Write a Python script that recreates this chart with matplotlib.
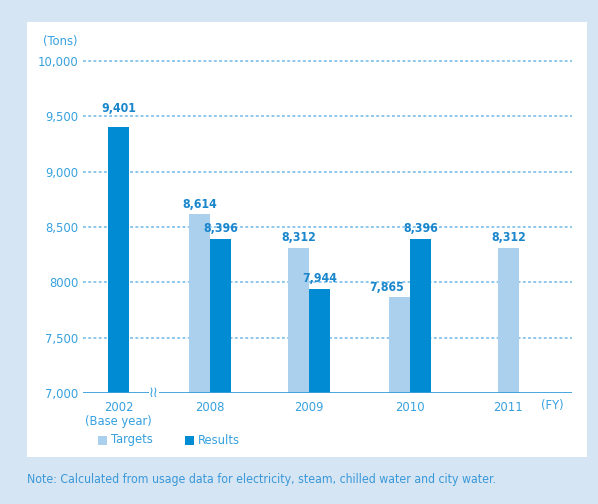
import matplotlib
matplotlib.use('Agg')
import matplotlib.pyplot as plt
from matplotlib.patches import Rectangle

plt.rcParams['font.family'] = ['DejaVu Sans']
plt.rcParams['font.stretch'] = 'condensed'

years = ['2002\n(Base year)', '2008', '2009', '2010', '2011']
targets = [None, 8614, 8312, 7865, 8312]
results = [9401, 8396, 7944, 8396, None]
yticks = [7000, 7500, 8000, 8500, 9000, 9500, 10000]
ytick_labels = ['7,000', '7,500', '8000', '8,500', '9,000', '9,500', '10,000']

# group centres along the x axis (axis runs 83..572)
xpos = [118.5, 210, 309, 410, 508.5]
bw = 21

c_target = '#abd0ee'
c_result = '#008bd2'
c_text = '#35a0de'
c_val = '#1a86cc'
bg = '#d5e5f4'
W, H = 598, 504

fig = plt.figure(figsize=(W / 100, H / 100), dpi=100, facecolor=bg)
fig.patches.append(Rectangle((27 / W, 1 - 457 / H), (587 - 27) / W, (457 - 22) / H,
                             transform=fig.transFigure, facecolor='white', edgecolor='none', zorder=-5))

ax = fig.add_axes([83 / W, 1 - 393 / H, (572 - 83) / W, (393 - 61) / H])
ax.set_facecolor('none')
ax.set_xlim(83, 572)
ax.set_ylim(7000, 10000)

lbl = dict(va='bottom', color=c_val, fontsize=8.8, fontweight='bold', zorder=6)
for i, x in enumerate(xpos):
    t, r = targets[i], results[i]
    if t is not None and r is not None:
        xt, xr = x - bw / 2, x + bw / 2
    else:
        xt = xr = x
    if t is not None:
        ax.bar(xt, t - 7000, bottom=7000, width=bw, color=c_target, zorder=3)
        # the low 2010 target label is pushed left, clear of the results bar
        ha = 'right' if r is not None and t < r else 'center'
        tx = xt + 4 if ha == 'right' else xt
        ax.text(tx, t + 30, f'{t:,}', ha=ha, **lbl)
    if r is not None:
        ax.bar(xr, r - 7000, bottom=7000, width=bw, color=c_result, zorder=3)
        ax.text(xr, r + (110 if i == 0 else 30), f'{r:,}', ha='center', **lbl)

# dashed gridlines
for y in yticks[1:]:
    ax.axhline(y, color='#86c3ec', lw=1.3, ls=(0, (1.6, 1.3)), zorder=1, clip_on=False)
ax.axhline(7000, color='#3a9fdc', lw=1.3, zorder=4)

for s in ax.spines.values():
    s.set_visible(False)
ax.set_yticks(yticks)
ax.set_yticklabels(ytick_labels)
ax.tick_params(axis='y', length=0, pad=3.5, labelsize=9.3, labelcolor=c_text)
ax.set_xticks(xpos)
ax.set_xticklabels(years, linespacing=1.1)
ax.tick_params(axis='x', length=0, pad=6, labelsize=9.3, labelcolor=c_text)

fig.text(77 / W, 1 - 42 / H, '(Tons)', ha='right', va='center', color=c_text, fontsize=9.3)
fig.text(552 / W, 1 - 406 / H, '(FY)', ha='center', va='center', color=c_text, fontsize=9.3)

# axis break mark
ax.text(154, 7000, '≀≀', ha='center', va='center', color=c_text, fontsize=10.5, zorder=5,
        bbox=dict(facecolor='white', edgecolor='none', pad=0.3))

# legend
fig.patches.append(Rectangle((98 / W, 1 - 445 / H), 9 / W, 9 / H,
                             transform=fig.transFigure, facecolor=c_target, edgecolor='none'))
fig.text(111 / W, 1 - 440 / H, 'Targets', ha='left', va='center', color=c_text, fontsize=9.3)
fig.patches.append(Rectangle((185 / W, 1 - 445 / H), 9 / W, 9 / H,
                             transform=fig.transFigure, facecolor=c_result, edgecolor='none'))
fig.text(198 / W, 1 - 440 / H, 'Results', ha='left', va='center', color=c_text, fontsize=9.3)

fig.text(27 / W, 1 - 480 / H,
         'Note: Calculated from usage data for electricity, steam, chilled water and city water.',
         ha='left', va='center', color='#3a98d8', fontsize=8.8)

fig.savefig('out.png', dpi=100, facecolor=bg)
